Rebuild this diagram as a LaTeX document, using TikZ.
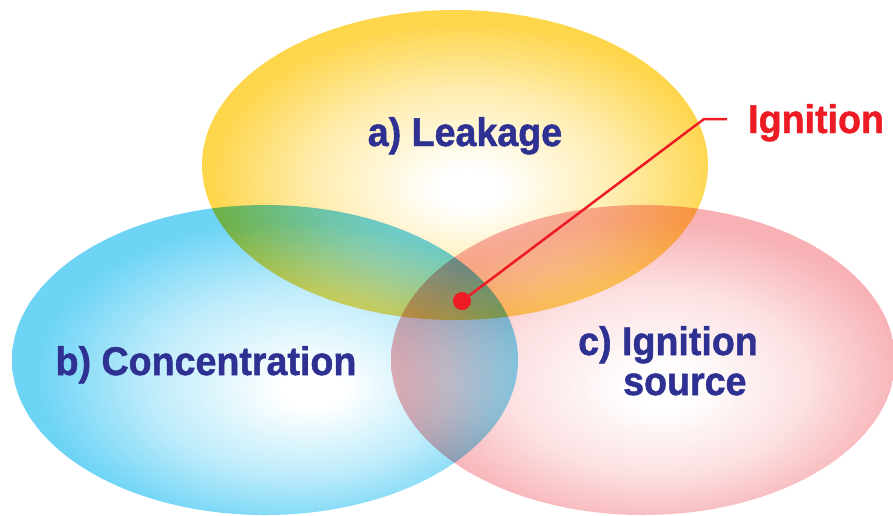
\documentclass[tikz,border=0pt]{standalone}
\usepackage{fontspec}
\newfontfamily\vennfont[FakeStretch=0.94, FakeBold=1.2]{Liberation Sans}
\usetikzlibrary{positioning, calc}

\definecolor{leakyellow}{RGB}{254,200,16}
\definecolor{conccyan}{RGB}{62,198,243}
\definecolor{srcpink}{RGB}{245,151,156}
\definecolor{labelnavy}{RGB}{46,49,146}
\definecolor{ignred}{RGB}{237,28,36}

% white core, coloured rim
\pgfdeclareradialshading{leakshade}{\pgfpoint{1.5bp}{-4bp}}{color(0bp)=(white); color(3bp)=(white); color(15bp)=(leakyellow!45!white); color(25bp)=(leakyellow); color(50bp)=(leakyellow)}
\pgfdeclareradialshading{concshade}{\pgfpoint{5bp}{-5bp}}{color(0bp)=(white); color(3bp)=(white); color(15bp)=(conccyan!45!white); color(25bp)=(conccyan); color(50bp)=(conccyan)}
\pgfdeclareradialshading{srcshade}{\pgfpoint{2bp}{-5bp}}{color(0bp)=(white); color(3bp)=(white); color(15bp)=(srcpink!40!white); color(25bp)=(srcpink); color(50bp)=(srcpink)}

\tikzset{
    venn/.style={shading=#1, fill opacity=0.75, blend mode=multiply},
    vennlabel/.style={font=\vennfont\bfseries\fontsize{40}{40}\selectfont, text=labelnavy, inner sep=0pt},
    igline/.style={draw=ignred, line width=2.5pt},
}

\begin{document}
\begin{tikzpicture}[x=1pt, y=-1pt]
    \useasboundingbox (0,0) rectangle (893,515);

    % Sets
    \shade[venn=leakshade] (455,165) ellipse [x radius=253pt, y radius=155pt];
    \shade[venn=concshade] (265,360) ellipse [x radius=253pt, y radius=155pt];
    \shade[venn=srcshade] (643,360) ellipse [x radius=252pt, y radius=155pt];

    % Set labels
    \node[vennlabel, anchor=base] (leak) at (465,146) {a) Leakage};
    \node[vennlabel, anchor=base] (conc) at (206,375) {b) Concentration};
    \node[vennlabel, anchor=base west] (src) at (578,355) {c) Ignition};
    \node[vennlabel, anchor=base west] (srcb) at (623,395) {source};

    % Ignition point
    \node[circle, fill=ignred, minimum size=18pt, inner sep=0pt] (igdot) at (462,301) {};
    \node[vennlabel, text=ignred, anchor=base west] (iglabel) at (748,133) {Ignition};
    \coordinate (igbend) at (704,119);
    \coordinate (igend) at (727,119);
    \draw[igline] (igdot) -- (igbend) -- (igend);
\end{tikzpicture}
\end{document}
